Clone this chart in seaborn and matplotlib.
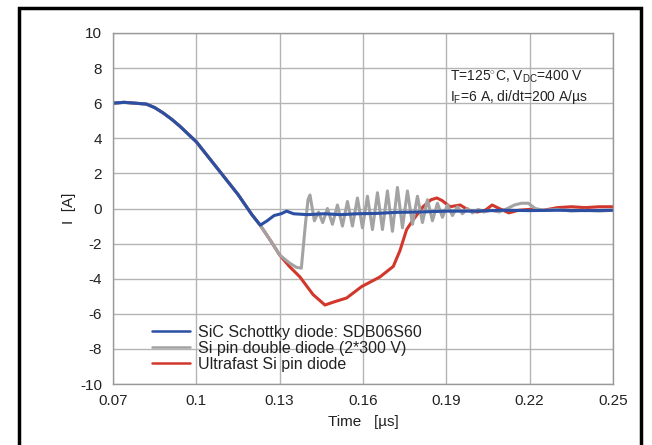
import matplotlib
matplotlib.use("Agg")
import matplotlib.pyplot as plt
from matplotlib.patches import Rectangle
import seaborn as sns
import pandas as pd

# ---- data (time in µs, current in A) ----
common_t = [0.070, 0.074, 0.078, 0.082, 0.085, 0.088, 0.091, 0.094, 0.097, 0.100,
            0.105, 0.110, 0.115, 0.120, 0.123]
common_i = [6.0, 6.05, 6.0, 5.95, 5.75, 5.45, 5.1, 4.7, 4.25, 3.8,
            2.8, 1.8, 0.8, -0.35, -0.95]

sic_t = [0.1255, 0.128, 0.1305, 0.1325, 0.135, 0.140, 0.146, 0.152, 0.158, 0.165,
         0.172, 0.180, 0.190, 0.200, 0.210, 0.220, 0.230, 0.240, 0.250]
sic_i = [-0.7, -0.4, -0.3, -0.15, -0.3, -0.35, -0.3, -0.35, -0.3, -0.28,
         -0.22, -0.2, -0.15, -0.15, -0.1, -0.12, -0.1, -0.12, -0.1]

sipin_t = [0.127, 0.130, 0.1335, 0.136, 0.1378, 0.1392, 0.1402, 0.1409,
           0.1425, 0.1440, 0.1455, 0.1472, 0.1490, 0.1508, 0.1526, 0.1544, 0.1562,
           0.1580, 0.1598, 0.1616, 0.1634, 0.1652, 0.1670, 0.1688, 0.1706, 0.1724,
           0.1742, 0.1760, 0.1778, 0.1796, 0.1814, 0.1832, 0.1850, 0.1868, 0.1886,
           0.1904, 0.1922, 0.1940, 0.1958, 0.1976, 0.1994, 0.2015, 0.2035, 0.206,
           0.209, 0.212, 0.2145, 0.217, 0.2195, 0.222, 0.225, 0.230, 0.235, 0.240,
           0.245, 0.250]
sipin_i = [-1.9, -2.65, -3.1, -3.35, -3.4, -1.0, 0.5, 0.77,
           -0.7, -0.2, -0.8, 0.0, -0.9, 0.2, -1.0, 0.4, -1.0,
           0.6, -1.1, 0.7, -1.2, 0.9, -1.2, 1.0, -1.3, 1.2,
           -1.1, 1.0, -0.9, 0.7, -0.8, 0.5, -0.7, 0.3, -0.5,
           0.2, -0.4, 0.1, -0.3, 0.0, -0.25, -0.05, -0.2, -0.1,
           -0.2, 0.0, 0.2, 0.3, 0.3, 0.0, -0.1, -0.05, -0.15, -0.1,
           -0.15, -0.1]

ultra_t = [0.127, 0.130, 0.1335, 0.1373, 0.142, 0.1463, 0.150, 0.1541, 0.1595,
           0.1661, 0.1709, 0.1733, 0.1757, 0.178, 0.1816, 0.1845, 0.1866, 0.1885,
           0.1913, 0.195, 0.198, 0.201, 0.204, 0.2065, 0.209, 0.2125, 0.216, 0.220,
           0.225, 0.230, 0.235, 0.240, 0.245, 0.250]
ultra_i = [-1.9, -2.65, -3.3, -3.9, -4.9, -5.5, -5.3, -5.1, -4.45,
           -3.9, -3.3, -2.4, -1.2, -0.66, 0.1, 0.5, 0.6, 0.45,
           0.1, 0.2, -0.1, -0.2, -0.1, 0.2, 0.0, -0.25, -0.1, -0.05,
           -0.1, 0.05, 0.1, 0.05, 0.1, 0.1]

labels = ["SiC Schottky diode: SDB06S60",
          "Si pin double diode (2*300 V)",
          "Ultrafast Si pin diode"]
colors = ["#2b4fa3", "#a3a3a3", "#d2372c"]

x_ticks = [0.07, 0.1, 0.13, 0.16, 0.19, 0.22, 0.25]
x_ticklabels = ["0.07", "0.1", "0.13", "0.16", "0.19", "0.22", "0.25"]
y_ticks = [-10, -8, -6, -4, -2, 0, 2, 4, 6, 8, 10]

# ---- build long-format table ----
frames = []
for lab, t, i in [(labels[0], common_t + sic_t, common_i + sic_i),
                  (labels[1], common_t + sipin_t, common_i + sipin_i),
                  (labels[2], common_t + ultra_t, common_i + ultra_i)]:
    frames.append(pd.DataFrame({"t": t, "I": i, "diode": lab}))
df = pd.concat(frames, ignore_index=True)

sns.set_style("white")
plt.rcParams["font.family"] = ["Liberation Sans", "DejaVu Sans"]
plt.rcParams["mathtext.fontset"] = "custom"
plt.rcParams["mathtext.rm"] = "Liberation Sans"
plt.rcParams["mathtext.it"] = "Liberation Sans:italic"
plt.rcParams["mathtext.bf"] = "Liberation Sans:bold"
plt.rcParams["axes.unicode_minus"] = False

fig = plt.figure(figsize=(6.52, 4.45), dpi=100)
ax = fig.add_axes([113 / 652, 61 / 445, 500 / 652, 351 / 445])

draw_order = [labels[2], labels[1], labels[0]]
sns.lineplot(data=df, x="t", y="I", hue="diode", hue_order=draw_order,
             palette={labels[0]: colors[0], labels[1]: colors[1], labels[2]: colors[2]},
             sort=False, estimator=None, linewidth=2.2, ax=ax, legend=True)

ax.set_xlim(0.07, 0.25)
ax.set_ylim(-10, 10)
ax.set_xticks(x_ticks)
ax.set_xticklabels(x_ticklabels)
ax.set_yticks(y_ticks)
ax.grid(True, color="#b4b4b4", linewidth=1.0)
ax.set_axisbelow(True)
for s in ax.spines.values():
    s.set_color("#999999")
    s.set_linewidth(1.0)
ax.tick_params(axis="y", direction="out", length=5, width=1, color="#999999",
               pad=3, labelsize=11, labelcolor="#222222")
ax.tick_params(axis="x", length=0, pad=7, labelsize=11, labelcolor="#222222")

ax.set_xlabel("Time   [µs]", fontsize=11, color="#222222")
ax.set_ylabel("I  [A]", fontsize=11, color="#222222")
ax.xaxis.set_label_coords(0.5, -0.088)
ax.yaxis.set_label_coords(-0.073, 0.5)

ax.text(0.1915, 7.5, r"T=125$^{\circ}$C, V$_{\mathrm{DC}}$=400 V", fontsize=10,
        va="center", ha="left", color="#222222")
ax.text(0.1915, 6.35, r"I$_{\mathrm{F}}$=6 A, di/dt=200 A/µs", fontsize=10,
        va="center", ha="left", color="#222222")

handles, labs = ax.get_legend_handles_labels()
hmap = dict(zip(labs, handles))
leg = ax.legend([hmap[l] for l in labels], labels, loc="upper left",
                bbox_to_anchor=(0.078, 0.168), frameon=False, fontsize=11.5,
                borderpad=0, borderaxespad=0, handlelength=2.4,
                handletextpad=0.45, labelspacing=0.05)
for h in leg.get_lines():
    h.set_linewidth(1.8)
for t in leg.get_texts():
    t.set_color("#222222")

fig.add_artist(Rectangle((19 / 652, -0.05), (641 - 19) / 652, 1 - 8 / 445 + 0.05,
                         transform=fig.transFigure, fill=False,
                         edgecolor="black", linewidth=2.5, clip_on=False))

fig.savefig("out.png", dpi=100)
